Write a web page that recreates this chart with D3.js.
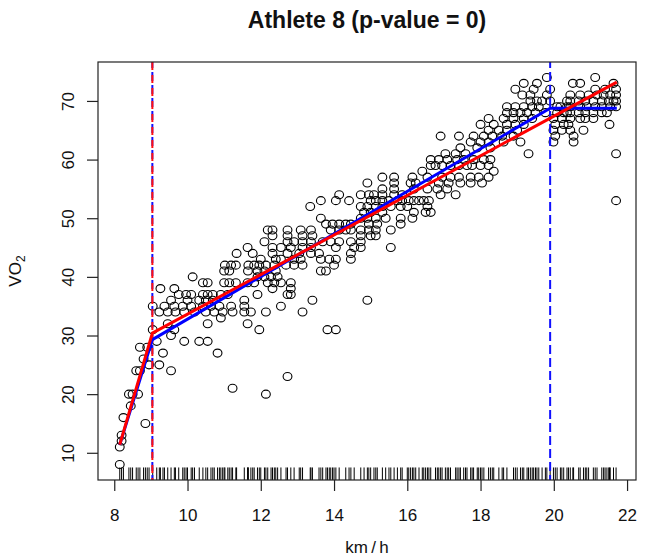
<!DOCTYPE html>
<html><head><meta charset="utf-8">
<script src="https://cdn.jsdelivr.net/npm/d3@7"></script>
<style>body{margin:0;background:#fff}svg{display:block}</style>
</head><body>
<svg id="c" width="645" height="557"></svg>
<script>
// ---- data (speed km/h, VO2) ----
const titleText = "Athlete 8 (p-value = 0)";
const xLabel = "km\u2009/\u2009h";
const xTicks = [8, 10, 12, 14, 16, 18, 20, 22];
const yTicks = [10, 20, 30, 40, 50, 60, 70];
const xLim = [7.556, 22.244];
const yLim = [5.36, 76.64];

const rampPts = [[8.15,8],[8.15,11],[8.2,12],[8.2,13],[8.25,16],[8.45,18],[8.4,20],[8.5,20],[8.65,20],[8.85,15],[8.6,24],[8.7,24],[8.8,26],[8.7,28],[8.9,28],[8.95,25]];

const lowPts = [[9.05,31],[9.05,35],[9.16,29],[9.23,34],[9.26,38],[9.33,27],[9.23,25],[9.55,24],[9.37,35],[9.46,34],[9.46,32],[9.55,30],[9.55,36],[9.64,38],[9.64,35],[9.67,34],[9.64,31],[9.76,37],[9.87,35],[9.91,34],[9.91,29],[9.96,37],[10.0,36],[10.1,35],[10.1,37],[10.14,40],[10.19,34],[10.32,36],[10.32,29],[10.42,35],[10.42,37],[10.42,39],[10.5,34],[10.5,36],[10.55,39],[10.55,37],[10.55,32],[10.55,29],[10.64,35],[10.69,37],[10.69,36],[10.73,34],[10.82,27],[10.87,35],[10.91,37],[10.91,33],[10.96,34],[11.0,41],[11.0,39],[11.02,42],[11.1,37],[11.14,41],[11.14,39],[11.19,42],[11.19,35],[11.23,34],[11.23,21],[11.32,42],[11.32,39],[11.34,44],[11.55,36],[11.55,35],[11.55,34],[11.64,45],[11.66,42],[11.65,41],[11.64,39],[11.64,32],[11.73,34]];

const midPts = [[14.14,54],[13.64,53],[14.05,53],[14.41,53],[13.35,52],[13.64,50],
[13.78,49],[13.96,49],[14.14,49],[14.32,49],[14.46,49],
[12.19,48],[12.32,48],[12.73,48],[13.09,48],[13.37,48],[13.91,48],[14.14,48],[14.32,48],[14.46,48],
[12.32,47],[12.73,47],[13.14,47],[13.41,47],
[12.1,46],[12.73,46],[12.91,46],[13.14,46],[13.37,46],[13.69,46],[13.91,46],[14.14,46],[14.46,46],
[12.32,45],[12.55,45],[12.82,45],[13.14,45],[13.37,45],[14.05,45],[14.55,45],
[11.78,44],[12.32,44],[12.73,44],[13.05,44],[13.37,44],[13.59,44],[14.46,44],
[12.0,43],[12.41,43],[12.55,43],[12.91,43],[13.09,43],[13.64,43],[13.87,43],[14.05,43],[14.46,43],
[11.82,42],[11.96,42],[12.14,42],[12.37,42],[12.69,42],[12.91,42],[13.14,42],[14.0,42],
[11.91,41],[12.1,41],[12.41,41],[13.64,41],[13.78,41],
[11.91,40],[12.1,40],[12.28,40],[12.46,40],
[11.82,39],[12.19,39],[12.37,39],[12.55,39],[12.82,39],
[12.32,38],[12.82,38],[11.91,37],[12.73,37],[12.82,37],
[13.41,36],[12.14,34],[12.55,35],[13.14,34],[11.96,31],[13.82,31],[14.05,31],[12.14,20],[12.73,23]];

const highPts = [[16.91,64],[17.41,64],[17.45,62],[17.04,61],[17.32,61],[17.59,61],
[16.64,60],[16.86,60],[17.09,60],[17.36,60],[17.54,60],
[16.64,59],[16.77,59],[16.95,59],[17.18,59],[17.41,59],[17.63,59],[16.41,58],
[15.32,57],[15.64,57],[16.14,57],[16.55,57],[16.95,57],[17.18,57],[17.41,57],
[14.91,56],[15.64,56],[16.09,56],[16.23,56],[16.86,56],[17.13,56],[17.45,56],
[15.32,55],[15.64,55],[16.18,55],[16.55,55],[16.82,55],[17.09,55],
[14.73,54],[14.95,54],[15.09,54],[15.32,54],[15.64,54],[15.86,54],[16.91,54],[17.32,54],
[15.0,53],[15.14,53],[15.32,53],[15.5,53],[15.73,53],[15.86,53],[16.04,53],[16.18,53],[16.32,53],[16.45,53],[16.59,53],
[14.73,52],[14.91,52],[15.14,52],[15.32,52],[15.55,52],[15.82,52],[16.0,52],[16.55,52],
[14.82,51],[15.0,51],[15.32,51],[16.18,51],[16.5,51],[16.64,51],
[14.73,50],[14.91,50],[15.14,50],[15.41,50],[15.82,50],[16.14,50],
[14.95,49],[15.18,49],[15.82,49],[14.73,48],[14.95,48],[15.14,48],[15.55,48],
[14.73,47],[15.0,47],[15.14,47],[14.73,46],[15.55,45],[14.73,45],[14.91,36]];

const topPts = [[19.81,74],[19.18,73],[19.54,73],[18.95,72],[19.45,72],[19.9,72],
[19.14,71],[19.36,71],[19.81,71],[19.36,70],[19.54,70],[19.68,70],[19.9,70],
[18.72,69],[18.95,69],[19.18,69],[19.41,69],[19.59,69],[20.09,69],
[18.72,68],[18.9,68],[19.09,68],[19.27,68],[19.5,68],[19.77,68],[20.09,68],
[18.22,67],[18.63,67],[18.9,67],[19.18,67],[19.41,67],[19.99,67],
[18.0,66],[18.36,66],[18.72,66],[18.95,66],[19.18,66],[20.04,66],
[18.22,65],[18.5,65],[18.72,65],[19.0,65],[19.99,65],
[17.81,64],[18.09,64],[18.32,64],[18.59,64],[18.9,64],[20.04,64],
[17.73,63],[18.0,63],[18.22,63],[18.63,63],[19.09,63],[19.99,63],
[17.91,62],[18.27,62],[19.31,61],[17.81,60],[18.09,60],[18.27,60],
[17.77,59],[18.0,59],[18.22,59],[18.36,58],[17.73,57],[17.95,57],[18.22,57],[18.04,56],[17.73,56]];

const edgePts = [[21.13,74],[20.52,73],[20.72,73],[21.63,73],[21.13,72],[21.4,72],[21.7,72],
[20.45,71],[20.72,71],[20.95,71],[21.18,71],[21.36,71],[21.54,71],[21.7,71],
[20.36,70],[20.45,70],[20.68,70],[20.86,70],[21.08,70],[21.31,70],[21.5,70],[21.63,70],[21.7,70],
[20.18,69],[20.36,69],[20.45,69],[20.72,69],[20.9,69],[21.13,69],[21.31,69],[21.54,69],[21.7,69],
[20.27,68],[20.36,68],[20.45,68],[20.68,68],[20.86,68],[21.08,68],[21.31,68],[21.45,68],
[20.22,67],[20.45,67],[20.72,67],[20.86,67],[21.08,67],
[21.52,66],[20.4,66],[20.27,66],[20.81,65],[20.22,65],[20.45,65],[20.54,64],[20.54,63],[21.7,61],[21.7,53]];

const redFit = [[8.15,11.4],[9.04,30.4],[21.72,73.2]];
const blueFit = [[8.15,11.4],[9.04,29.3],[19.9,68.75],[21.72,68.75]];
const redBreaks = [9.04];
const blueBreaks = [9.04, 19.9];

// ---- drawing ----
const W = 645, H = 557;
const box = {l: 98, r: 636, t: 62, b: 480};
const svg = d3.select("#c");
svg.append("rect").attr("width", W).attr("height", H).attr("fill", "#fff");
const x = d3.scaleLinear().domain(xLim).range([box.l, box.r]);
const y = d3.scaleLinear().domain(yLim).range([box.b, box.t]);

svg.append("clipPath").attr("id", "clip").append("rect")
  .attr("x", box.l).attr("y", box.t).attr("width", box.r - box.l).attr("height", box.b - box.t);
const g = svg.append("g").attr("clip-path", "url(#clip)");

const allPts = [].concat(rampPts, lowPts, midPts, highPts, topPts, edgePts);

// points
g.append("g").selectAll("ellipse").data(allPts).join("ellipse")
  .attr("cx", d => x(d[0])).attr("cy", d => y(d[1]))
  .attr("rx", 4.4).attr("ry", 4.0)
  .attr("fill", "none").attr("stroke", "#000").attr("stroke-width", 1.1);

// rug
const rugX = Array.from(new Set(allPts.map(d => d[0])));
const rugLen = 0.03 * (box.b - box.t);
g.append("g").selectAll("line").data(rugX).join("line")
  .attr("x1", d => x(d)).attr("x2", d => x(d))
  .attr("y1", box.b).attr("y2", box.b - rugLen)
  .attr("stroke", "#000").attr("stroke-width", 1);

// breakpoints (dashed verticals)
g.append("g").selectAll("line").data(blueBreaks).join("line")
  .attr("x1", d => x(d)).attr("x2", d => x(d))
  .attr("y1", box.t).attr("y2", box.b)
  .attr("stroke", "#1010ff").attr("stroke-width", 2)
  .attr("stroke-dasharray", "9,4").attr("stroke-dashoffset", 3);
g.append("g").selectAll("line").data(redBreaks).join("line")
  .attr("x1", d => x(d)).attr("x2", d => x(d))
  .attr("y1", box.t).attr("y2", box.b)
  .attr("stroke", "#ff1010").attr("stroke-width", 2)
  .attr("stroke-dasharray", "8,5");

// fitted lines
const line = d3.line().x(d => x(d[0])).y(d => y(d[1]));
g.append("path").datum(blueFit).attr("d", line)
  .attr("fill", "none").attr("stroke", "#0000ff").attr("stroke-width", 3).attr("stroke-linejoin", "round");
g.append("path").datum(redFit).attr("d", line)
  .attr("fill", "none").attr("stroke", "#ff0000").attr("stroke-width", 3).attr("stroke-linejoin", "round");

// box
svg.append("rect").attr("x", box.l).attr("y", box.t)
  .attr("width", box.r - box.l).attr("height", box.b - box.t)
  .attr("fill", "none").attr("stroke", "#222").attr("stroke-width", 1.2);

const font = "'Liberation Sans', Arial, Helvetica, sans-serif";

// x axis
const xa = svg.append("g").attr("transform", `translate(0,${box.b})`)
  .call(d3.axisBottom(x).tickValues(xTicks).tickSize(11).tickPadding(18).tickFormat(d3.format("d")));
xa.select(".domain").remove();
xa.selectAll("line").attr("stroke", "#222").attr("stroke-width", 1.2);
xa.selectAll("text").attr("font-family", font).attr("font-size", 17).attr("fill", "#111");

// y axis
const ya = svg.append("g").attr("transform", `translate(${box.l},0)`)
  .call(d3.axisLeft(y).tickValues(yTicks).tickSize(11).tickFormat(d3.format("d")));
ya.select(".domain").remove();
ya.selectAll("line").attr("stroke", "#222").attr("stroke-width", 1.2);
ya.selectAll("text").attr("x", null).attr("dy", null)
  .attr("transform", "translate(-24,0) rotate(-90)")
  .attr("text-anchor", "middle")
  .attr("font-family", font).attr("font-size", 17).attr("fill", "#111");

// title
svg.append("text").attr("x", (box.l + box.r) / 2).attr("y", 28)
  .attr("text-anchor", "middle").attr("font-family", font)
  .attr("font-weight", "bold").attr("font-size", 23).attr("fill", "#111")
  .text(titleText);

// x label
svg.append("text").attr("x", (box.l + box.r) / 2).attr("y", 553)
  .attr("text-anchor", "middle").attr("font-family", font)
  .attr("font-size", 17).attr("fill", "#111").text(xLabel);

// y label with subscript
const yl = svg.append("text").attr("transform", `translate(21,${(box.t + box.b) / 2}) rotate(-90)`)
  .attr("text-anchor", "middle").attr("font-family", font)
  .attr("font-size", 17).attr("fill", "#111");
yl.append("tspan").text("VO");
yl.append("tspan").attr("font-size", 12).attr("dy", 4).text("2");
</script>
</body></html>
